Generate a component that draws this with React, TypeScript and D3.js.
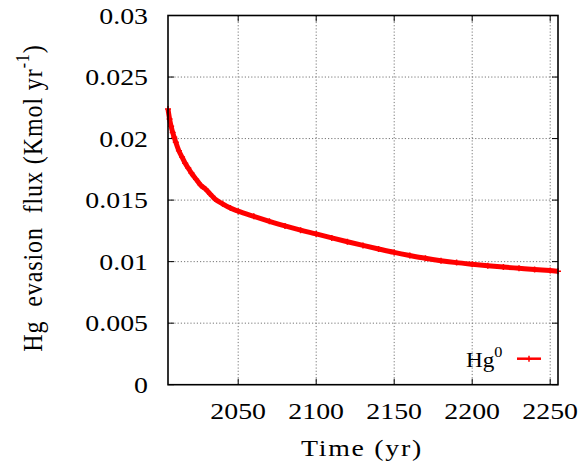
import React from "react";
import * as d3 from "d3";

const years = [2005, 2006, 2007, 2008, 2009, 2010, 2012, 2014, 2016, 2018, 2020, 2023, 2026, 2029, 2032, 2035, 2040, 2045, 2050, 2060, 2070, 2080, 2090, 2100, 2110, 2120, 2130, 2140, 2150, 2160, 2170, 2180, 2190, 2200, 2210, 2220, 2230, 2240, 2250, 2255];
const flux = [0.0224, 0.0216, 0.0210, 0.0205, 0.0201, 0.0197, 0.0190, 0.0185, 0.0180, 0.0176, 0.0172, 0.0167, 0.0162, 0.0159, 0.0155, 0.0151, 0.0147, 0.01435, 0.0141, 0.01368, 0.01328, 0.0129, 0.01256, 0.01225, 0.01193, 0.01162, 0.01132, 0.01103, 0.01075, 0.0105, 0.01027, 0.01008, 0.00992, 0.00979, 0.00967, 0.00956, 0.00946, 0.00936, 0.00927, 0.00922];
const xTicks = [2050, 2100, 2150, 2200, 2250];
const yTicks = [0, 0.005, 0.01, 0.015, 0.02, 0.025, 0.03];
const yTickLabels = ["0", "0.005", "0.01", "0.015", "0.02", "0.025", "0.03"];

const W = 583, H = 465;
const L = 168, R = 558, T = 15.5, B = 384.7;
const FONT = "'Liberation Serif', 'Times New Roman', Tinos, serif";
const SX = 1.16;

export default function App() {
  const x = d3.scaleLinear().domain([2005, 2255]).range([L, R]);
  const y = d3.scaleLinear().domain([0, 0.03]).range([B, T]);
  const pts = years.map((yr, i) => [x(yr), y(flux[i])] as [number, number]);
  const line = d3.line().curve(d3.curveMonotoneX)(pts) || "";
  const tick = 6;
  return (
    <svg width={W} height={H} style={{ position: "absolute", left: 0, top: 0, background: "#fff" }}>
      <rect x={0} y={0} width={W} height={H} fill="#fff" />
      {/* grid */}
      {xTicks.map((t) => (
        <line key={"gx" + t} x1={x(t)} x2={x(t)} y1={T} y2={B} stroke="#777" strokeWidth={1} strokeDasharray="1.2,2" />
      ))}
      {yTicks.slice(1, -1).map((t) => (
        <line key={"gy" + t} x1={L} x2={R} y1={y(t)} y2={y(t)} stroke="#777" strokeWidth={1} strokeDasharray="1.2,2" />
      ))}
      {/* ticks */}
      {xTicks.map((t) => (
        <g key={"tx" + t}>
          <line x1={x(t)} x2={x(t)} y1={B} y2={B - tick} stroke="#000" strokeWidth={1} />
          <line x1={x(t)} x2={x(t)} y1={T} y2={T + tick} stroke="#000" strokeWidth={1} />
          <text transform={`translate(${x(t)},${419}) scale(${SX},1)`} textAnchor="middle" fontFamily={FONT} fontSize={24} fill="#000">{t}</text>
        </g>
      ))}
      {yTicks.map((t, i) => (
        <g key={"ty" + t}>
          <line x1={L} x2={L + tick} y1={y(t)} y2={y(t)} stroke="#000" strokeWidth={1} />
          <line x1={R} x2={R - tick} y1={y(t)} y2={y(t)} stroke="#000" strokeWidth={1} />
          <text transform={`translate(${148},${y(t) + 8}) scale(${SX},1)`} textAnchor="end" fontFamily={FONT} fontSize={24} fill="#000">{yTickLabels[i]}</text>
        </g>
      ))}
      {/* data */}
      <path d={line} fill="none" stroke="#ff0000" strokeWidth={5} strokeLinejoin="round" />
      {pts.map((p, i) => (
        <path key={"m" + i} d={`M${p[0] - 3},${p[1]}h6M${p[0]},${p[1] - 3}v6`} stroke="#ff0000" strokeWidth={1.5} />
      ))}
      {/* border */}
      <rect x={L} y={T} width={R - L} height={B - T} fill="none" stroke="#000" strokeWidth={1.6} />
      {/* legend */}
      <text transform={`translate(${466},${367}) scale(${SX},1)`} fontFamily={FONT} fontSize={20} fill="#000">
        Hg<tspan dy={-10} fontSize={14}>0</tspan>
      </text>
      <line x1={517} x2={541} y1={358.7} y2={358.7} stroke="#ff0000" strokeWidth={2.5} />
      <path d={`M${526},${358.7}h6M${529},${355.7}v6`} stroke="#ff0000" strokeWidth={1.5} />
      {/* axis titles */}
      <text transform={`translate(${362},${456}) scale(${SX},1)`} textAnchor="middle" fontFamily={FONT} fontSize={24} letterSpacing={1.5} fill="#000" style={{ whiteSpace: "pre" }}>Time (yr)</text>
      <text transform={`translate(${42},${198}) scale(${SX},1) rotate(-90)`} textAnchor="middle" fontFamily={FONT} fontSize={24} letterSpacing={0.9} fill="#000" style={{ whiteSpace: "pre" }}>
        {"Hg  evasion  flux (Kmol yr"}<tspan dy={-11} fontSize={16}>-1</tspan><tspan dy={11}>)</tspan>
      </text>
    </svg>
  );
}
